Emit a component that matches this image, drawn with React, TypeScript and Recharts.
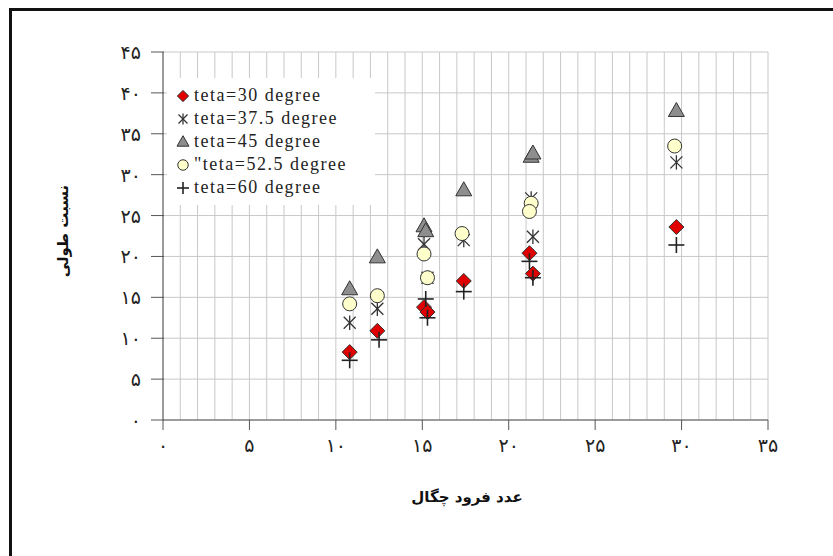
import { CartesianGrid, Legend, Scatter, ScatterChart, XAxis, YAxis } from "recharts"

type Pt = { x: number; y: number }

// values (x = densimetric Froude number, y = relative length)
const teta30: Pt[] = [
  { x: 10.8, y: 8.3 },
  { x: 12.4, y: 10.9 },
  { x: 15.1, y: 13.8 },
  { x: 15.3, y: 13.2 },
  { x: 17.4, y: 17.0 },
  { x: 21.2, y: 20.4 },
  { x: 21.4, y: 17.9 },
  { x: 29.7, y: 23.6 },
]
const teta375: Pt[] = [
  { x: 10.8, y: 11.9 },
  { x: 12.4, y: 13.6 },
  { x: 15.1, y: 21.5 },
  { x: 15.3, y: 17.4 },
  { x: 17.4, y: 22.0 },
  { x: 21.3, y: 27.1 },
  { x: 21.4, y: 22.4 },
  { x: 29.7, y: 31.5 },
]
const teta45: Pt[] = [
  { x: 10.8, y: 16.0 },
  { x: 12.4, y: 19.9 },
  { x: 15.1, y: 23.7 },
  { x: 15.2, y: 23.1 },
  { x: 17.4, y: 28.1 },
  { x: 21.3, y: 32.2 },
  { x: 21.4, y: 32.6 },
  { x: 29.7, y: 37.8 },
]
const teta525: Pt[] = [
  { x: 10.8, y: 14.2 },
  { x: 12.4, y: 15.2 },
  { x: 15.1, y: 20.3 },
  { x: 15.3, y: 17.4 },
  { x: 17.3, y: 22.8 },
  { x: 21.3, y: 26.5 },
  { x: 21.2, y: 25.5 },
  { x: 29.6, y: 33.5 },
]
const teta60: Pt[] = [
  { x: 10.8, y: 7.3 },
  { x: 12.5, y: 9.8 },
  { x: 15.2, y: 14.8 },
  { x: 15.3, y: 12.5 },
  { x: 17.4, y: 15.7 },
  { x: 21.2, y: 19.4 },
  { x: 21.4, y: 17.4 },
  { x: 29.7, y: 21.4 },
]

const xTicks = Array.from({ length: 36 }, (_, i) => i) // grid every 1, label every 5
const yTicks = [0, 5, 10, 15, 20, 25, 30, 35, 40, 45]

const series = [
  { name: "teta=30 degree", data: teta30, kind: "diamond" },
  { name: "teta=37.5 degree", data: teta375, kind: "star" },
  { name: "teta=45 degree", data: teta45, kind: "triangle" },
  { name: "\"teta=52.5 degree", data: teta525, kind: "circle" },
  { name: "teta=60 degree", data: teta60, kind: "plus" },
]

const fa = (v: number) => String(v).replace(/\d/g, (d) => "۰۱۲۳۴۵۶۷۸۹"[Number(d)])

const AXIS = "#555"
const INK = "#333"

function Marker({ kind, cx, cy, s = 1 }: { kind: string; cx: number; cy: number; s?: number }) {
  if (kind === "diamond") {
    const r = 7.5 * s
    return (
      <polygon
        points={`${cx},${cy - r} ${cx + r},${cy} ${cx},${cy + r} ${cx - r},${cy}`}
        fill="#e00000"
        stroke={INK}
        strokeWidth={1}
      />
    )
  }
  if (kind === "triangle") {
    const w = 8 * s
    const h = 14 * s
    return (
      <polygon
        points={`${cx},${cy - h * 0.6} ${cx + w},${cy + h * 0.4} ${cx - w},${cy + h * 0.4}`}
        fill="#8e8e8e"
        stroke={INK}
        strokeWidth={1}
      />
    )
  }
  if (kind === "circle") {
    return <circle cx={cx} cy={cy} r={7 * s} fill="#ffffcc" stroke={INK} strokeWidth={1} />
  }
  if (kind === "star") {
    const d = 6 * s
    return (
      <g stroke={INK} strokeWidth={1.3}>
        <line x1={cx - d} y1={cy - d} x2={cx + d} y2={cy + d} />
        <line x1={cx - d} y1={cy + d} x2={cx + d} y2={cy - d} />
        <line x1={cx} y1={cy - d * 1.2} x2={cx} y2={cy + d * 1.2} />
      </g>
    )
  }
  const d = 8 * s
  return (
    <g stroke="#222" strokeWidth={1.6}>
      <line x1={cx - d} y1={cy} x2={cx + d} y2={cy} />
      <line x1={cx} y1={cy - d} x2={cx} y2={cy + d} />
    </g>
  )
}

function XTick(props: any) {
  const { x, y, payload } = props
  const v = payload.value as number
  if (v % 5 !== 0) return null
  return (
    <g>
      <line x1={x} y1={y - 8} x2={x} y2={y + 2} stroke={AXIS} />
      <text x={x} y={y + 24} textAnchor="middle" fontSize={19} fill="#222" fontFamily="DejaVu Sans">
        {fa(v)}
      </text>
    </g>
  )
}

function YTick(props: any) {
  const { x, y, payload } = props
  return (
    <g>
      <line x1={x - 4} y1={y} x2={x + 9} y2={y} stroke={AXIS} />
      <text x={x - 14} y={y + 7} textAnchor="end" fontSize={19} fill="#222" fontFamily="DejaVu Sans">
        {fa(payload.value)}
      </text>
    </g>
  )
}

function LegendBox() {
  return (
    <div style={{ background: "#fff", width: 208, height: 127, paddingTop: 6, boxSizing: "border-box" }}>
      {series.map((s) => (
        <div key={s.name} style={{ display: "flex", alignItems: "center", height: 23 }}>
          <svg width={26} height={20}>
            <Marker kind={s.kind} cx={16} cy={10} s={0.75} />
          </svg>
          <span
            style={{
              fontFamily: "'Liberation Serif', 'Times New Roman', serif",
              fontSize: 18,
              letterSpacing: 1.5,
              color: "#222",
              marginLeft: 1,
              whiteSpace: "nowrap",
            }}
          >
            {s.name}
          </span>
        </div>
      ))}
    </div>
  )
}

export default function App() {
  return (
    <div style={{ position: "absolute", left: 0, top: 0, width: 833, height: 556, background: "#fff" }}>
      <div style={{ position: "absolute", left: 9, top: 8, width: 830, height: 550, borderLeft: "3px solid #111", borderTop: "3px solid #111" }} />
      <ScatterChart width={833} height={556} margin={{ top: 52, right: 65, bottom: 96, left: 103 }}>
        <CartesianGrid stroke="#c8c8c8" strokeWidth={1} />
        <XAxis
          type="number"
          dataKey="x"
          domain={[0, 35]}
          ticks={xTicks}
          interval={0}
          tickLine={false}
          tick={<XTick />}
          stroke={AXIS}
          height={40}
          allowDataOverflow
        />
        <YAxis
          type="number"
          dataKey="y"
          domain={[0, 45]}
          ticks={yTicks}
          interval={0}
          tickLine={false}
          tick={<YTick />}
          stroke={AXIS}
          width={60}
        />
        <Legend
          layout="vertical"
          align="center"
          verticalAlign="middle"
          wrapperStyle={{ left: 167, top: 78, width: 208 }}
          content={() => <LegendBox />}
        />
        {series.map((s) => (
          <Scatter
            key={s.name}
            name={s.name}
            data={s.data}
            isAnimationActive={false}
            shape={(p: any) => <Marker kind={s.kind} cx={p.cx} cy={p.cy} />}
          />
        ))}
      </ScatterChart>
      <div
        style={{
          position: "absolute",
          left: 63,
          top: 231,
          transform: "translate(-50%, -50%) rotate(-90deg)",
          fontFamily: "DejaVu Sans",
          fontWeight: "bold",
          fontSize: 15,
          whiteSpace: "nowrap",
          color: "#111",
        }}
      >
        نسبت طولی
      </div>
      <div
        style={{
          position: "absolute",
          left: 467,
          top: 497,
          transform: "translate(-50%, -50%)",
          fontFamily: "DejaVu Sans",
          fontWeight: "bold",
          fontSize: 15,
          whiteSpace: "nowrap",
          color: "#111",
        }}
      >
        عدد فرود چگال
      </div>
    </div>
  )
}
